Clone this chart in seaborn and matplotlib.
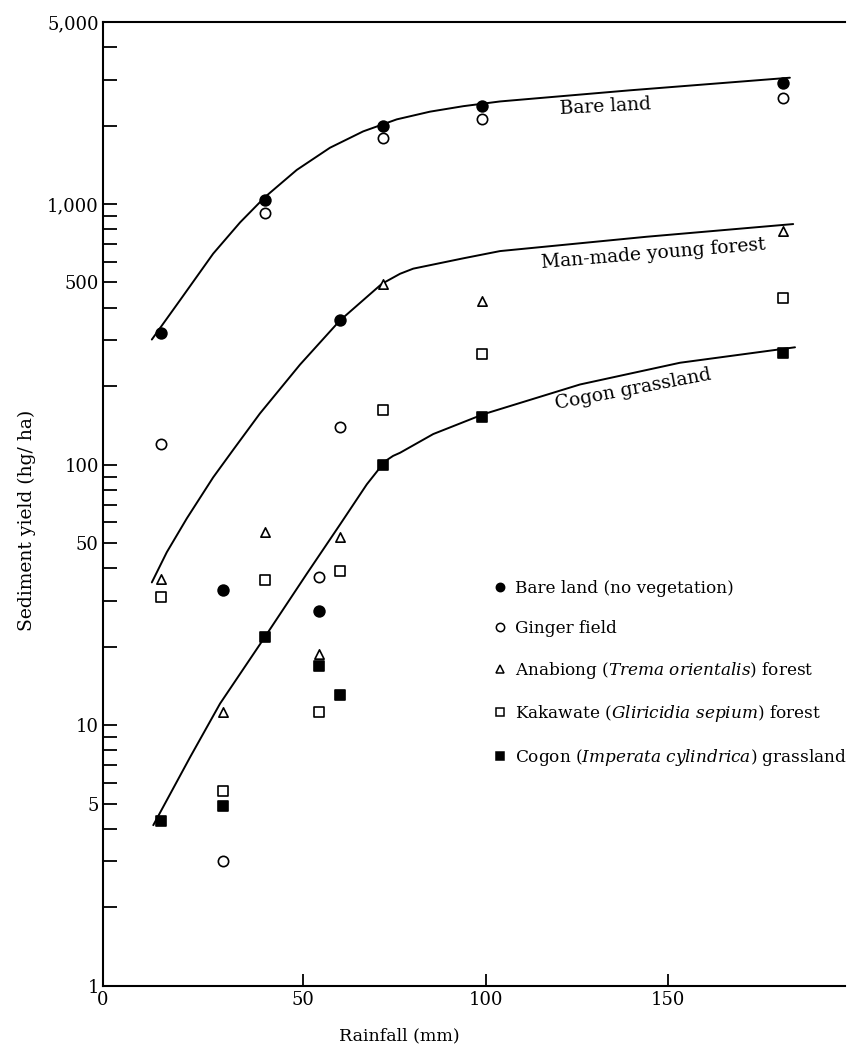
import numpy as np
import pandas as pd
import seaborn as sns
import matplotlib.pyplot as plt
from matplotlib.lines import Line2D
from matplotlib.ticker import FixedLocator, NullFormatter

# Rainfall of each plot event (mm), shared by all land-use series
rainfall = [11.0, 28.0, 39.5, 54.4, 60.0, 71.7, 99.0, 181.5]

# Sediment yield (hg/ha)
bare_land = [320, 33, 1040, 27.5, 360, 2000, 2380, 2910]
ginger = [120, 3.0, 925, 37, 139, 1790, 2125, 2550]
anabiong = [36.5, 11.2, 55, 18.7, 52.5, 495, 425, 785]
kakawate = [31, 5.6, 36, 11.2, 39, 162, 265, 436]
cogon = [4.3, 4.9, 21.7, 16.9, 13.1, 100, 152, 269]

# Hand-drawn fitted curves (x = rainfall, y = yield), read point by point
bare_curve_x = [8.5, 16.2, 25.3, 32.7, 39.5, 48.2, 57.3, 66.4, 75.6, 84.7, 93.8, 103.9, 139.5, 183.3]
bare_curve_y = [302, 427, 645, 851, 1064, 1352, 1645, 1901, 2114, 2263, 2375, 2477, 2733, 3055]
forest_curve_x = [8.5, 12.6, 18.1, 25.3, 30.8, 38.1, 49.1, 60.0, 71.5, 76.5, 80.1, 93.8, 103.9, 144.0, 184.2]
forest_curve_y = [35.3, 46.1, 62.2, 89.3, 114, 157, 242, 357, 494, 540, 565, 619, 660, 749, 838]
cogon_curve_x = [8.9, 19.0, 27.2, 39.0, 50.9, 60.1, 67.4, 72.4, 74.6, 76.5, 85.6, 99.3, 125.8, 153.2, 184.7]
cogon_curve_y = [4.13, 7.54, 12.1, 21.3, 38, 59, 84, 103, 108, 111, 131, 156, 203, 246, 282]

series_names = [
    'Bare land (no vegetation)',
    'Ginger field',
    'Anabiong ($\\mathit{Trema\\ orientalis}$) forest',
    'Kakawate ($\\mathit{Gliricidia\\ sepium}$) forest',
    'Cogon ($\\mathit{Imperata\\ cylindrica}$) grassland',
]
series_values = [bare_land, ginger, anabiong, kakawate, cogon]
series_markers = ['o', 'o', '^', 's', 's']
series_filled = [True, False, False, False, True]
series_sizes = [60, 55, 45, 42, 42]

sns.set_style('ticks')
plt.rcParams['font.family'] = ['DejaVu Serif']
plt.rcParams['mathtext.fontset'] = 'dejavuserif'
plt.rcParams['text.color'] = 'black'
plt.rcParams['axes.labelcolor'] = 'black'

fig = plt.figure(figsize=(8.49, 10.46), dpi=100)
ax = fig.add_axes([0.1213, 0.0577, 0.8740, 0.9213])

# curves
for cx, cy in [(bare_curve_x, bare_curve_y), (forest_curve_x, forest_curve_y),
               (cogon_curve_x, cogon_curve_y)]:
    sns.lineplot(x=cx, y=cy, ax=ax, color='black', linewidth=1.4, sort=False,
                 estimator=None)

# points
for name, vals, mk, filled, sz in zip(series_names, series_values, series_markers,
                                      series_filled, series_sizes):
    df = pd.DataFrame({'rainfall': rainfall, 'yield': vals})
    sns.scatterplot(data=df, x='rainfall', y='yield', ax=ax, marker=mk, s=sz,
                    color='black', edgecolor='black', linewidth=1.2, zorder=3)
    if not filled:
        ax.collections[-1].set_facecolor('white')

ax.set_yscale('log')
ax.set_xlim(-4.88, 198.4)
ax.set_ylim(1, 5000)

# axis ticks
ax.set_xticks([-4.88, 50, 100, 150], labels=['0', '50', '100', '150'])
major_y = [1, 5, 10, 50, 100, 500, 1000, 5000]
ax.yaxis.set_major_locator(FixedLocator(major_y))
ax.set_yticklabels(['1', '5', '10', '50', '100', '500', '1,000', '5,000'])
minor_y = [m * d for d in [1, 10, 100, 1000] for m in [2, 3, 4, 6, 7, 8, 9] if m * d < 5000]
ax.yaxis.set_minor_locator(FixedLocator(minor_y))
ax.yaxis.set_minor_formatter(NullFormatter())
ax.tick_params(axis='both', which='both', direction='in', width=1.3,
               labelsize=13, colors='black')
ax.tick_params(axis='y', which='both', length=10, pad=3)
ax.tick_params(axis='x', which='both', length=9, pad=4)
ax.xaxis.get_major_ticks()[0].tick1line.set_visible(False)

for side in ['left', 'bottom', 'top']:
    ax.spines[side].set_linewidth(1.5)
    ax.spines[side].set_color('black')
ax.spines['right'].set_visible(False)

ax.set_xlabel('Rainfall (mm)', fontsize=12.5, color='black')
ax.xaxis.set_label_coords(0.399, -0.043)
ax.set_ylabel('Sediment yield (hg/ ha)', fontsize=13.5, color='black')
ax.yaxis.set_label_coords(-0.09, 0.483)

# curve labels
ax.text(132.7, 2367, 'Bare land', fontsize=13.5, rotation=3, ha='center',
        va='center', rotation_mode='anchor', color='black')
ax.text(145.8, 647, 'Man-made young forest', fontsize=13.5, rotation=4.7,
        ha='center', va='center', rotation_mode='anchor', color='black')
ax.text(140.3, 195, 'Cogon grassland', fontsize=13.5, rotation=10.8,
        ha='center', va='center', rotation_mode='anchor', color='black')

# legend
handles = []
for mk, filled in zip(series_markers, series_filled):
    handles.append(Line2D([], [], linestyle='none', marker=mk, markersize=6,
                          markeredgecolor='black', markeredgewidth=1.1,
                          markerfacecolor='black' if filled else 'white'))
leg = ax.legend(handles, series_names, frameon=False, fontsize=12.2,
                loc='upper left', bbox_to_anchor=(486 / 849, 1 - 573 / 1046),
                bbox_transform=fig.transFigure, handlelength=0.8, handletextpad=0.5,
                labelspacing=1.35, borderpad=0.4, borderaxespad=0)
for t in leg.get_texts():
    t.set_color('black')

fig.savefig('out.png', dpi=100)
